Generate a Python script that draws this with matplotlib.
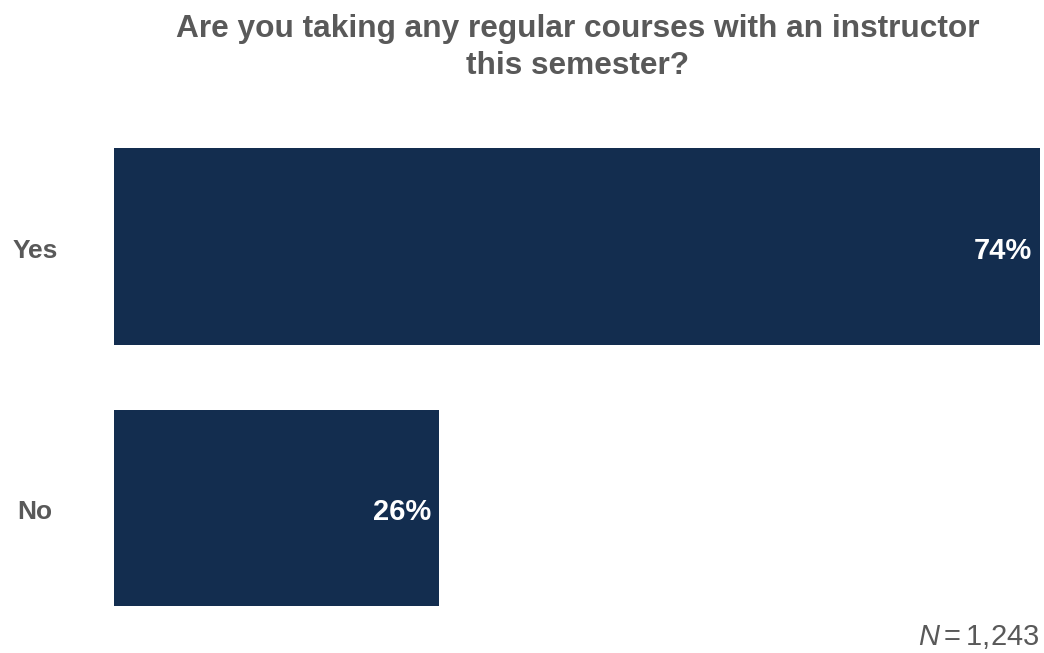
import matplotlib
matplotlib.use('Agg')
import matplotlib.pyplot as plt

plt.rcParams['font.family'] = ['Liberation Sans', 'DejaVu Sans']
plt.rcParams['mathtext.fontset'] = 'custom'
plt.rcParams['mathtext.rm'] = 'Liberation Sans'
plt.rcParams['mathtext.it'] = 'Liberation Sans:italic'

#### chart data ####
categories = ['Yes', 'No']
percents = [74, 26]
n_total = '1,243'
title = 'Are you taking any regular courses with an instructor\nthis semester?'

bar_color = '#132d4f'
gray = '#595959'

fig = plt.figure(figsize=(10.44, 6.53), dpi=100)
ax = fig.add_axes([0.1092, 0.0218, 0.887, 0.8009])

ypos = list(range(len(categories)))[::-1]
ax.barh(ypos, percents, height=0.753, color=bar_color)
ax.set_xlim(0, max(percents))
ax.set_ylim(-0.5, len(categories) - 0.5)
ax.axis('off')

# category labels on the left
for y, cat in zip(ypos, categories):
    ax.annotate(cat, xy=(-0.0853, y), xycoords=ax.get_yaxis_transform(),
                xytext=(0, -4), textcoords='offset pixels',
                ha='center', va='center', fontsize=19, fontweight='bold', color=gray)

# value labels inside the bar ends
for y, val in zip(ypos, percents):
    ax.annotate('{0}%'.format(val), xy=(val, y), xytext=(-8, -4),
                textcoords='offset pixels', ha='right', va='center',
                fontsize=21, fontweight='bold', color='white')

fig.text(0.553, 0.979, title, ha='center', va='top', fontsize=22.8,
         fontweight='bold', color=gray, linespacing=1.3)
fig.text(0.996, 0.003, r'$N = {0}$'.format(n_total.replace(',', '{,}')),
         ha='right', va='bottom', fontsize=21, color=gray)

fig.savefig('out.png', dpi=100)
